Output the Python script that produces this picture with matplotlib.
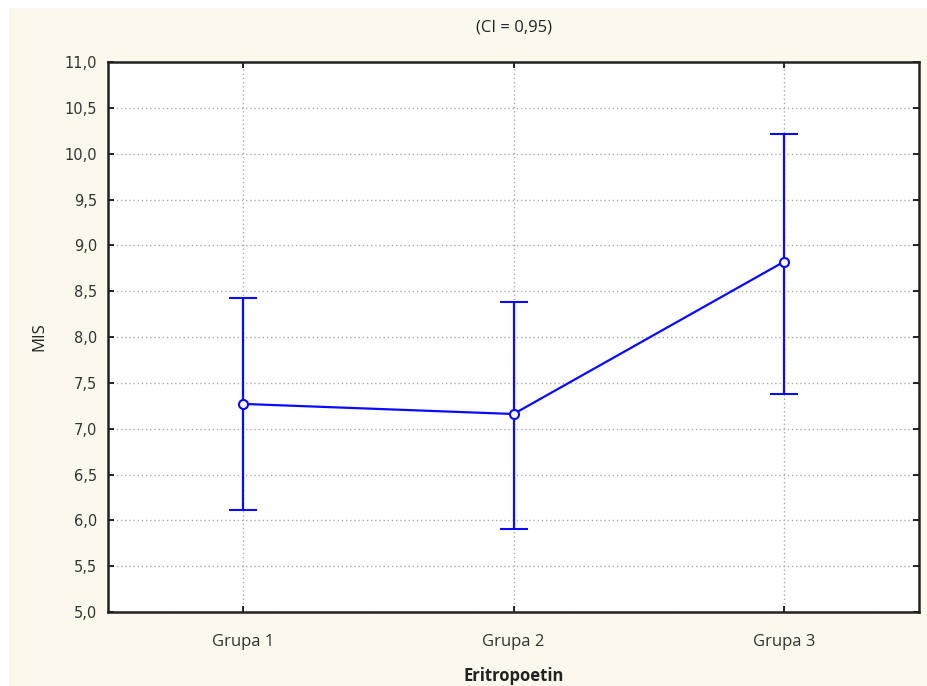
import matplotlib
matplotlib.use('Agg')
import matplotlib.pyplot as plt
from matplotlib.patches import Rectangle

# データ
groups = ['Grupa 1', 'Grupa 2', 'Grupa 3']
means = [7.27, 7.16, 8.82]
upper = [8.43, 8.38, 10.22]
lower = [6.11, 5.91, 7.38]

xs = list(range(1, len(groups) + 1))
err_lo = [m - l for m, l in zip(means, lower)]
err_hi = [u - m for m, u in zip(means, upper)]

fig = plt.figure(figsize=(9.27, 6.86), dpi=100)
fig.patch.set_facecolor('white')
# 背景（クリーム色）
fig.add_artist(Rectangle((9/927, 0), 1 - 9/927, 1 - 8/686, transform=fig.transFigure,
                         facecolor='#fdf8ee', edgecolor='none', zorder=-10))

ax = fig.add_axes([108/927, 74/686, 811/927, 550/686])
ax.set_zorder(5)
ax.set_facecolor('white')

ax.errorbar(xs, means, yerr=[err_lo, err_hi], color='#0a0aff', lw=1.6,
            capsize=10, capthick=1.6, marker='o', ms=6.5, mfc='white', mec='#0a0aff', mew=1.5,
            zorder=3)

ax.set_xlim(0.5, 3.5)
ax.set_ylim(5.0, 11.0)
ax.set_xticks(xs)
ax.set_xticklabels(groups)
yt = [5.0 + 0.5 * i for i in range(13)]
ax.set_yticks(yt)
ax.set_yticklabels([('%.1f' % v).replace('.', ',') for v in yt])
ax.tick_params(direction='in', length=4, width=1.2, top=True, right=True)
ax.tick_params(axis='x', labelsize=12, labelcolor='#333333', labelfontfamily='Open Sans', pad=16)
ax.tick_params(axis='y', labelsize=10.5, labelcolor='#333333', labelfontfamily='DejaVu Sans', pad=8)
ax.grid(True, color='#aaaaaa', linestyle=(0, (1, 2)), linewidth=1)
for s in ax.spines.values():
    s.set_linewidth(1.8)
    s.set_color('#222222')

ax.set_xlabel('Eritropoetin', fontsize=12, fontweight='bold', family='Open Sans',
              color='#222222', labelpad=12)
ax.set_ylabel('MIS', fontsize=12, family='Open Sans', color='#222222', labelpad=12)
ax.set_title('(CI = 0,95)', fontsize=12, family='Open Sans', color='#222222', pad=22)

fig.savefig('out.png', dpi=100, facecolor=fig.get_facecolor())
